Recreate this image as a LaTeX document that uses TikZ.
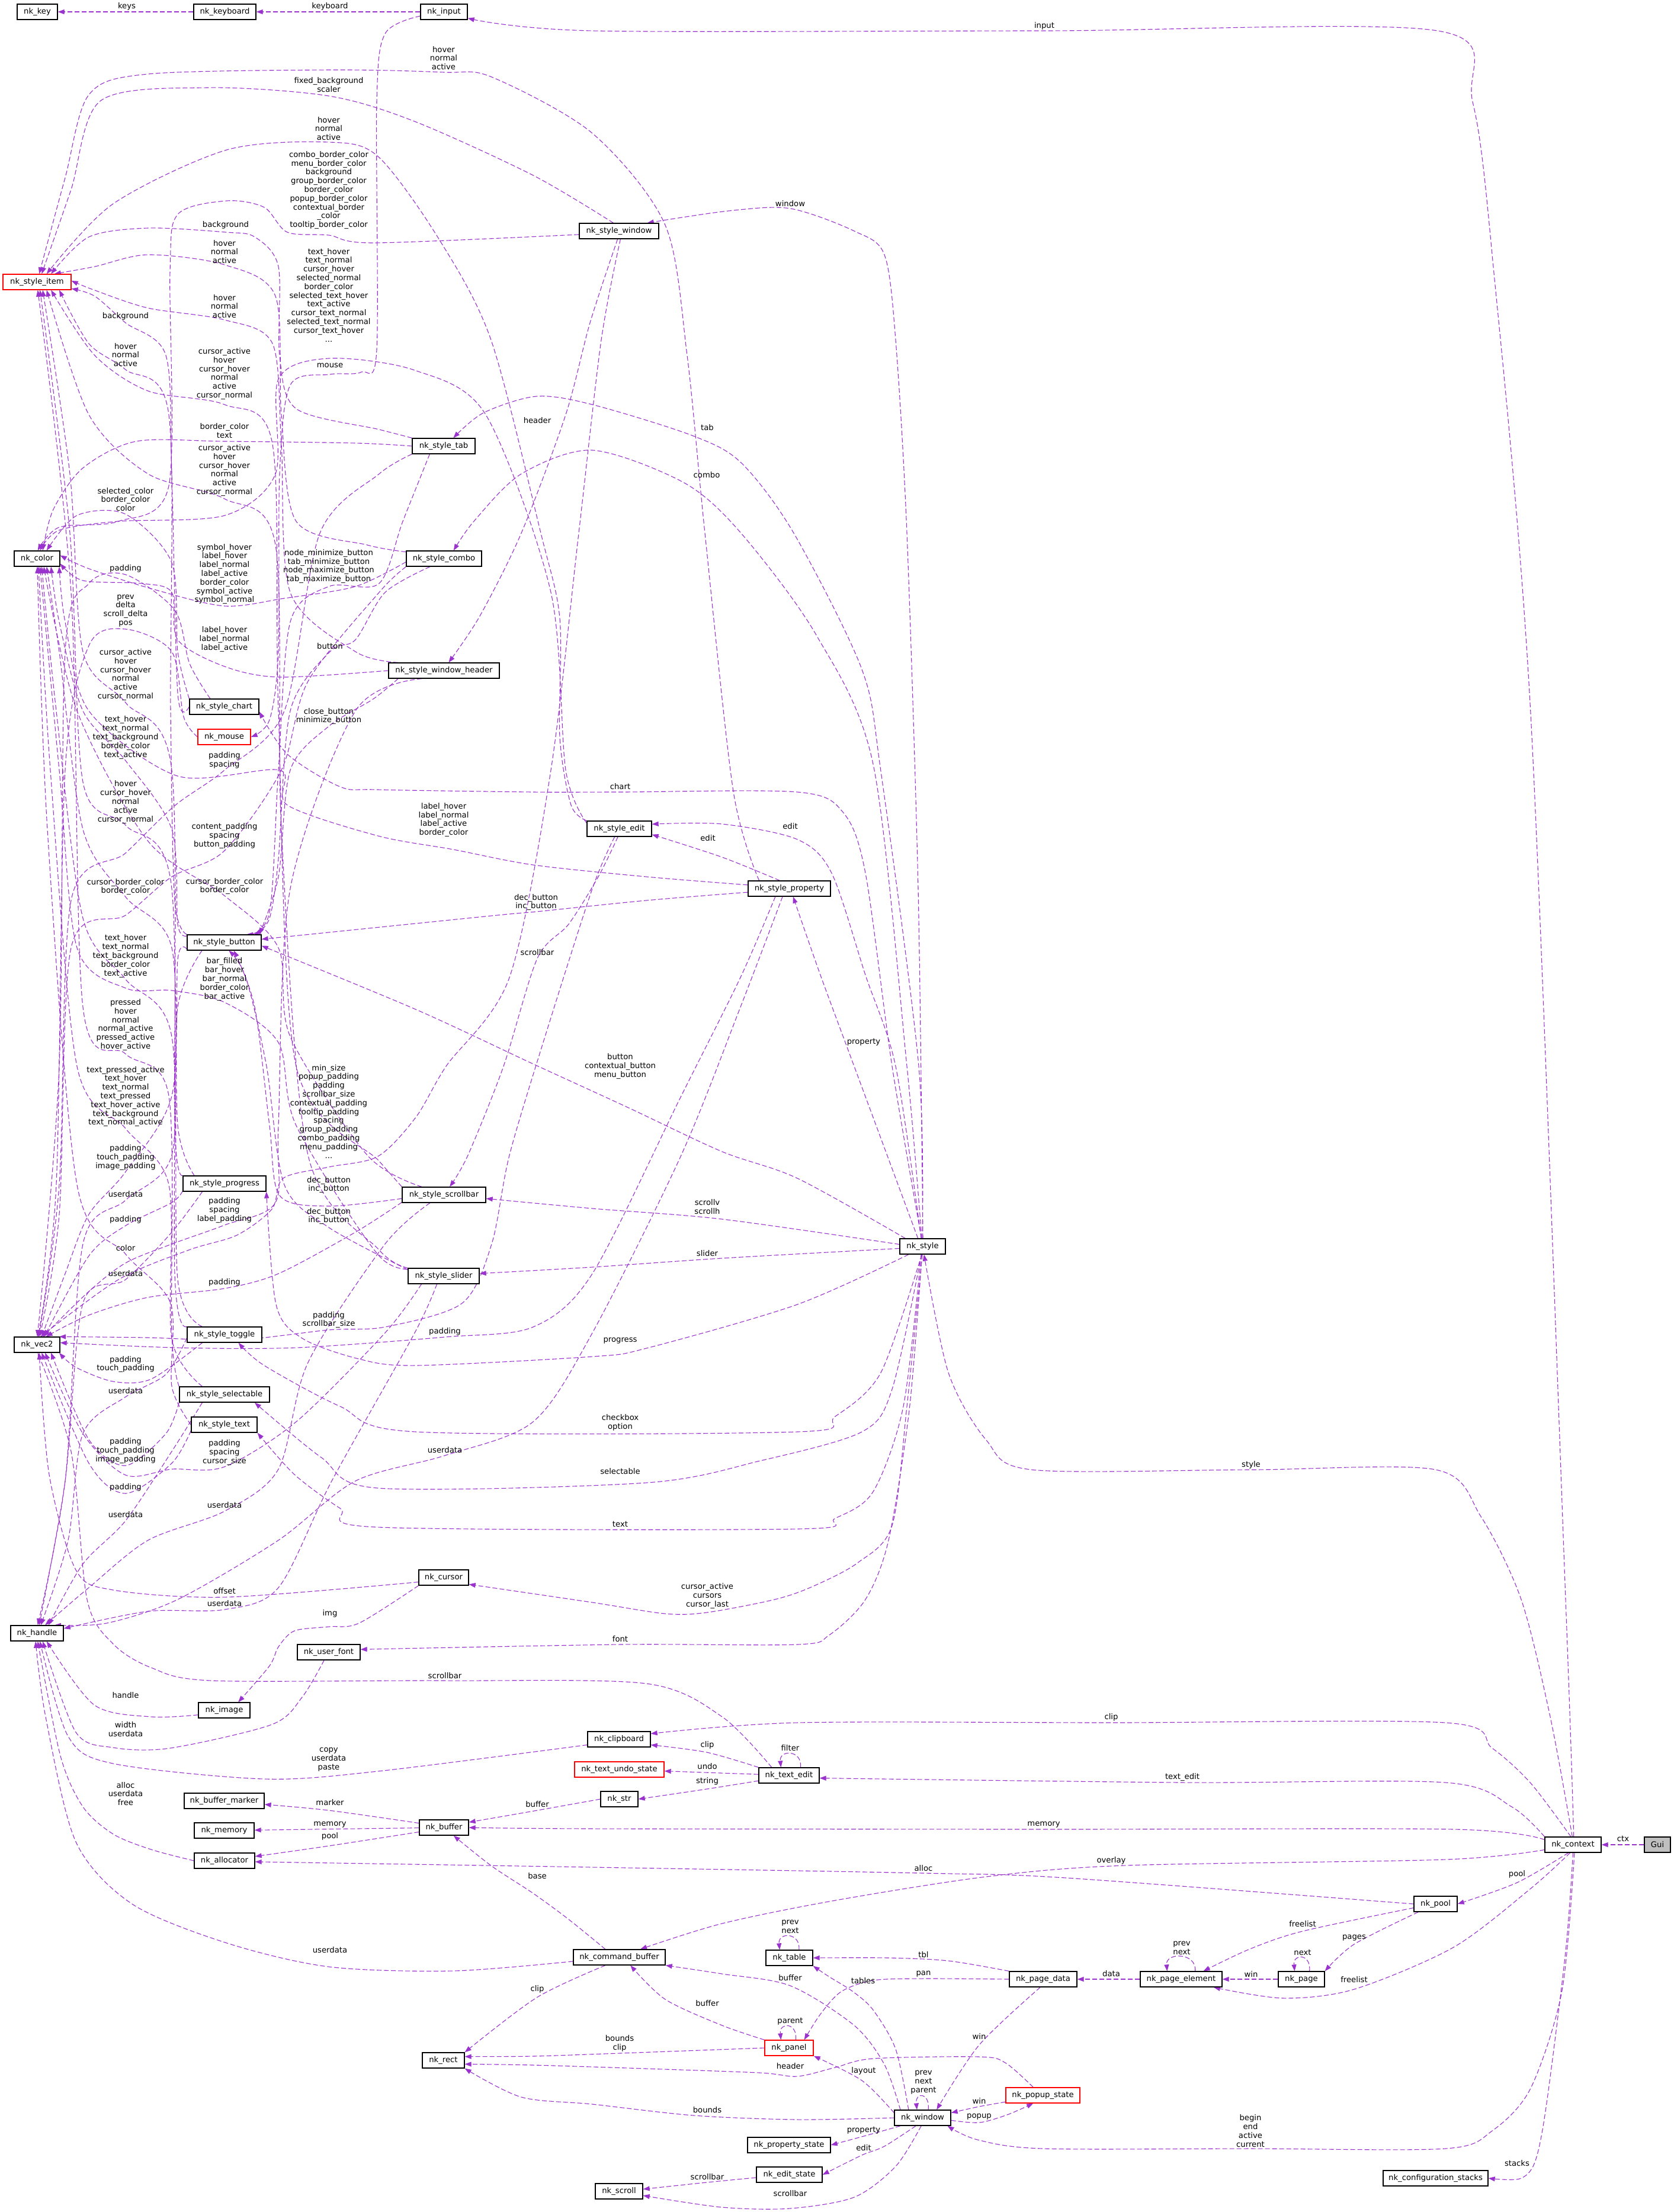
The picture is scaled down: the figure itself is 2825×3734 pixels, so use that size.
\documentclass[tikz,border=0pt]{standalone}
\usepackage{fontspec}
\setmainfont{DejaVu Sans}
\usetikzlibrary{arrows.meta}
\definecolor{ecol}{HTML}{9A32CD}
\newcommand{\nfont}{\fontsize{6.6pt}{7.4pt}\selectfont}
\pgfdeclarelayer{back}
\pgfdeclarelayer{bg}
\pgfsetlayers{back,bg,main}
\tikzset{
  nd/.style={draw=black,line width=0.65pt,fill=white,minimum height=13pt,inner sep=0pt,font=\nfont},
  wd/.style={minimum width=#1*0.5pt},
  trunc/.style={draw=red},
  edg/.style={draw=ecol,line width=0.55pt,dash pattern=on 4pt off 2pt,-{Triangle[length=5.5pt,width=4pt]}},
  lbl/.style={font=\nfont,align=center,inner sep=0pt,text=black},
}
\newcounter{lbc}
\newcommand{\lab}[2]{\stepcounter{lbc}\node[lbl] (lab\arabic{lbc}) at (#1) {#2};}
\newcommand{\edgeP}[1]{\draw[edg] plot[smooth,tension=0.5] coordinates {#1};}
\begin{document}
\begin{tikzpicture}[x=0.5pt,y=-0.5pt]
\begin{pgfonlayer}{back}
\fill[white] (0,0) rectangle (2825,3734);
\end{pgfonlayer}
\useasboundingbox (0,0) rectangle (2825,3734);
% ---------------- nodes
\node[nd,wd=68] (key) at (63,20) {nk\_key};
\node[nd,wd=105] (kbd) at (379.5,20) {nk\_keyboard};
\node[nd,wd=79] (inp) at (749.5,20) {nk\_input};
\node[nd,trunc,wd=115] (sitem) at (62.5,476) {nk\_style\_item};
\node[nd,wd=134] (swin) at (1045,390) {nk\_style\_window};
\node[nd,wd=106] (stab) at (749,753) {nk\_style\_tab};
\node[nd,wd=77] (col) at (62.5,943) {nk\_color};
\node[nd,wd=127] (scombo) at (749.5,943) {nk\_style\_combo};
\node[nd,wd=187] (shdr) at (749.5,1132) {nk\_style\_window\_header};
\node[nd,wd=117] (schart) at (378.5,1193) {nk\_style\_chart};
\node[nd,trunc,wd=89] (mouse) at (378.5,1244) {nk\_mouse};
\node[nd,wd=109] (sedit) at (1045.5,1399) {nk\_style\_edit};
\node[nd,wd=139] (sprop) at (1332.5,1500) {nk\_style\_property};
\node[nd,wd=125] (sbtn) at (378.5,1591) {nk\_style\_button};
\node[nd,wd=140] (sprog) at (379,1998) {nk\_style\_progress};
\node[nd,wd=141] (ssb) at (749.5,2017) {nk\_style\_scrollbar};
\node[nd,wd=120] (sslider) at (749,2154) {nk\_style\_slider};
\node[nd,wd=77] (sty) at (1557.5,2104) {nk\_style};
\node[nd,wd=77] (vec) at (62.5,2270) {nk\_vec2};
\node[nd,wd=126] (stog) at (379,2253) {nk\_style\_toggle};
\node[nd,wd=152] (ssel) at (379,2354) {nk\_style\_selectable};
\node[nd,wd=111] (stxt) at (378.5,2405) {nk\_style\_text};
\node[nd,wd=84] (cur) at (749,2663) {nk\_cursor};
\node[nd,wd=89] (hdl) at (62.5,2757) {nk\_handle};
\node[nd,wd=106] (ufont) at (555,2789) {nk\_user\_font};
\node[nd,wd=87] (img) at (378.5,2887) {nk\_image};
\node[nd,wd=106] (cbd) at (1045,2936) {nk\_clipboard};
\node[nd,trunc,wd=151] (undo) at (1045.5,2987) {nk\_text\_undo\_state};
\node[nd,wd=102] (tedit) at (1332,2997) {nk\_text\_edit};
\node[nd,wd=63] (str) at (1045.5,3037) {nk\_str};
\node[nd,wd=135] (marker) at (378.5,3040) {nk\_buffer\_marker};
\node[nd,wd=83] (buf) at (749.5,3085) {nk\_buffer};
\node[nd,wd=101] (mem) at (378.5,3090) {nk\_memory};
\node[nd,wd=102] (alloc) at (379,3141) {nk\_allocator};
\node[nd,wd=95] (ctx) at (2655.5,3114) {nk\_context};
\node[nd,wd=44,fill=gray!50] (gui) at (2798,3114) {Gui};
\node[nd,wd=73] (pool) at (2423.5,3214) {nk\_pool};
\node[nd,wd=155] (cmd) at (1045.5,3304) {nk\_command\_buffer};
\node[nd,wd=79] (tbl) at (1332.5,3305) {nk\_table};
\node[nd,wd=114] (pdata) at (1761,3341) {nk\_page\_data};
\node[nd,wd=138] (pel) at (1994,3341) {nk\_page\_element};
\node[nd,wd=78] (page) at (2197,3341) {nk\_page};
\node[nd,trunc,wd=82] (panel) at (1332,3457) {nk\_panel};
\node[nd,wd=71] (nrect) at (748.5,3478) {nk\_rect};
\node[nd,trunc,wd=125] (popup) at (1760.5,3537) {nk\_popup\_state};
\node[nd,wd=95] (win) at (1557.5,3575) {nk\_window};
\node[nd,wd=140] (pstate) at (1332,3621) {nk\_property\_state};
\node[nd,wd=111] (estate) at (1332.5,3671) {nk\_edit\_state};
\node[nd,wd=80] (scroll) at (1045,3699) {nk\_scroll};
\node[nd,wd=177] (stacks) at (2423.5,3677) {nk\_configuration\_stacks};
% ---------------- labels
\lab{214,11}{keys}
\lab{557,11}{keyboard}
\lab{1763,44}{input}
\lab{749,98}{hover\\normal\\active}
\lab{555,143}{fixed\_background\\scaler}
\lab{555,217}{hover\\normal\\active}
\lab{555,321}{combo\_border\_color\\menu\_border\_color\\background\\group\_border\_color\\border\_color\\popup\_border\_color\\contextual\_border\\\_color\\tooltip\_border\_color}
\lab{1334,344}{window}
\lab{381,380}{background}
\lab{379,425}{hover\\normal\\active}
\lab{555,498}{text\_hover\\text\_normal\\cursor\_hover\\selected\_normal\\border\_color\\selected\_text\_hover\\text\_active\\cursor\_text\_normal\\selected\_text\_normal\\cursor\_text\_hover\\...}
\lab{379,517}{hover\\normal\\active}
\lab{212,534}{background}
\lab{212,599}{hover\\normal\\active}
\lab{379,631}{cursor\_active\\hover\\cursor\_hover\\normal\\active\\cursor\_normal}
\lab{557,617}{mouse}
\lab{907,710}{header}
\lab{1194,722}{tab}
\lab{379,727}{border\_color\\text}
\lab{379,794}{cursor\_active\\hover\\cursor\_hover\\normal\\active\\cursor\_normal}
\lab{1193,802}{combo}
\lab{212,843}{selected\_color\\border\_color\\color}
\lab{555,956}{node\_minimize\_button\\tab\_minimize\_button\\node\_maximize\_button\\tab\_maximize\_button}
\lab{212,960}{padding}
\lab{379,969}{symbol\_hover\\label\_hover\\label\_normal\\label\_active\\border\_color\\symbol\_active\\symbol\_normal}
\lab{212,1031}{prev\\delta\\scroll\_delta\\pos}
\lab{379,1079}{label\_hover\\label\_normal\\label\_active}
\lab{557,1091}{button}
\lab{212,1139}{cursor\_active\\hover\\cursor\_hover\\normal\\active\\cursor\_normal}
\lab{555,1209}{close\_button\\minimize\_button}
\lab{212,1245}{text\_hover\\text\_normal\\text\_background\\border\_color\\text\_active}
\lab{379,1283}{padding\\spacing}
\lab{1047,1328}{chart}
\lab{212,1354}{hover\\cursor\_hover\\normal\\active\\cursor\_normal}
\lab{749,1384}{label\_hover\\label\_normal\\label\_active\\border\_color}
\lab{1334,1395}{edit}
\lab{379,1411}{content\_padding\\spacing\\button\_padding}
\lab{1195,1415}{edit}
\lab{212,1497}{cursor\_border\_color\\border\_color}
\lab{379,1496}{cursor\_border\_color\\border\_color}
\lab{905,1523}{dec\_button\\inc\_button}
\lab{907,1608}{scrollbar}
\lab{212,1614}{text\_hover\\text\_normal\\text\_background\\border\_color\\text\_active}
\lab{379,1653}{bar\_filled\\bar\_hover\\bar\_normal\\border\_color\\bar\_active}
\lab{212,1730}{pressed\\hover\\normal\\normal\_active\\pressed\_active\\hover\_active}
\lab{1458,1759}{property}
\lab{1047,1800}{button\\contextual\_button\\menu\_button}
\lab{212,1851}{text\_pressed\_active\\text\_hover\\text\_normal\\text\_pressed\\text\_hover\_active\\text\_background\\text\_normal\_active}
\lab{555,1876}{min\_size\\popup\_padding\\padding\\scrollbar\_size\\contextual\_padding\\tooltip\_padding\\spacing\\group\_padding\\combo\_padding\\menu\_padding\\...}
\lab{212,1954}{padding\\touch\_padding\\image\_padding}
\lab{555,2000}{dec\_button\\inc\_button}
\lab{212,2016}{userdata}
\lab{1194,2037}{scrollv\\scrollh}
\lab{379,2043}{padding\\spacing\\label\_padding}
\lab{555,2053}{dec\_button\\inc\_button}
\lab{212,2059}{padding}
\lab{212,2107}{color}
\lab{1194,2116}{slider}
\lab{212,2150}{userdata}
\lab{379,2165}{padding}
\lab{555,2228}{padding\\scrollbar\_size}
\lab{751,2248}{padding}
\lab{1047,2263}{progress}
\lab{212,2303}{padding\\touch\_padding}
\lab{212,2348}{userdata}
\lab{1047,2401}{checkbox\\option}
\lab{212,2449}{padding\\touch\_padding\\image\_padding}
\lab{379,2452}{padding\\spacing\\cursor\_size}
\lab{751,2448}{userdata}
\lab{1047,2484}{selectable}
\lab{212,2511}{padding}
\lab{379,2541}{userdata}
\lab{212,2557}{userdata}
\lab{1047,2573}{text}
\lab{379,2686}{offset}
\lab{1194,2694}{cursor\_active\\cursors\\cursor\_last}
\lab{379,2707}{userdata}
\lab{557,2724}{img}
\lab{1047,2767}{font}
\lab{751,2829}{scrollbar}
\lab{212,2862}{handle}
\lab{1876,2899}{clip}
\lab{212,2919}{width\\userdata}
\lab{1194,2946}{clip}
\lab{1334,2951}{filter}
\lab{555,2970}{copy\\userdata\\paste}
\lab{1194,2982}{undo}
\lab{1996,3000}{text\_edit}
\lab{1194,3007}{string}
\lab{212,3028}{alloc\\userdata\\free}
\lab{557,3043}{marker}
\lab{907,3046}{buffer}
\lab{557,3080}{memory}
\lab{1762,3080}{memory}
\lab{557,3100}{pool}
\lab{2740,3104}{ctx}
\lab{1876,3141}{overlay}
\lab{1559,3154}{alloc}
\lab{2561,3164}{pool}
\lab{907,3167}{base}
\lab{2199,3248}{freelist}
\lab{1334,3252}{prev\\next}
\lab{2286,3271}{pages}
\lab{1995,3288}{prev\\next}
\lab{557,3292}{userdata}
\lab{2199,3296}{next}
\lab{1559,3300}{tbl}
\lab{1559,3332}{pan}
\lab{1876,3332}{data}
\lab{2112,3332}{win}
\lab{1334,3339}{buffer}
\lab{2286,3342}{freelist}
\lab{1457,3344}{tables}
\lab{907,3358}{clip}
\lab{1194,3382}{buffer}
\lab{1334,3412}{parent}
\lab{1653,3437}{win}
\lab{1046,3449}{bounds\\clip}
\lab{1334,3488}{header}
\lab{1458,3496}{layout}
\lab{1559,3515}{prev\\next\\parent}
\lab{1653,3546}{win}
\lab{1194,3562}{bounds}
\lab{1653,3573}{popup}
\lab{2111,3597}{begin\\end\\active\\current}
\lab{1458,3596}{property}
\lab{1458,3626}{edit}
\lab{2561,3652}{stacks}
\lab{1194,3675}{scrollbar}
\lab{1334,3703}{scrollbar}
\lab{2112,2473}{style}
% ---------------- edges
\begin{pgfonlayer}{bg}
\draw[edg] (kbd) -- (key);
\draw[edg] (inp) -- (kbd);
\draw[edg] (gui) -- (ctx);
\edgeP{(ctx.85) (2643,2700) (2584,1205) (2519,430) (2486,172) (2427,52) (1763,52) (1000,52) (inp.-15)}
\edgeP{(ctx.95) (2617,2898) (2568,2700) (2500,2560) (2424,2481) (2112,2481) (1742,2481) (1665,2431) (1601,2317) (sty.-80)}
\edgeP{(ctx.-120) (2561,3178) (pool.east)}
\edgeP{(ctx.-110) (2584,3188) (2454,3287) (2286,3358) (2166,3373) (pel.-14)}
\edgeP{(ctx.-90) (2643,3294) (2610,3557) (2591,3650) (2565,3678) (stacks.east)}
\edgeP{(ctx.-80) (2637,3360) (2584,3525) (2519,3597) (2440,3627) (2111,3627) (1761,3627) (1650,3612) (win.-18)}
\edgeP{(ctx.-170) (2440,3139) (1900,3149) (1665,3168) (1410,3208) (1219,3247) (cmd.21)}
\edgeP{(ctx.170) (2454,3088) (1762,3088) (1000,3087) (buf.east)}
\edgeP{(ctx.north west) (2552,3050) (2440,3009) (1996,3009) (tedit.-5)}
\edgeP{(ctx.105) (2584,3010) (2519,2951) (2440,2908) (1876,2908) (1346,2908) (cbd.10)}
% pool / pages
\edgeP{(pool.west) (1800,3170) (1559,3162) (1000,3152) (alloc.-2)}
\edgeP{(pool.-170) (2199,3260) (2110,3290) (pel.20)}
\edgeP{(pool.-155) (2286,3282) (page.north east)}
\draw[edg] (page.45) .. controls +(3,-30) and +(-3,-30) .. (page.130);
\draw[edg] (page) -- (pel);
\draw[edg] (pel.30) .. controls +(3,-32) and +(-3,-32) .. (pel.150);
\draw[edg] (pel) -- (pdata);
\edgeP{(pdata.north west) (1601,3310) (1500,3305) (tbl.east)}
\edgeP{(pdata.west) (1559,3340) (1474,3343) (1420,3362) (1385,3400) (panel.28)}
\edgeP{(pdata.-110) (1653,3452) (win.30)}
\draw[edg] (tbl.40) .. controls +(3,-30) and +(-3,-30) .. (tbl.140);
% window
\edgeP{(win.150) (1512,3459) (1474,3393) (1440,3362) (1400,3337) (tbl.south east)}
\edgeP{(win.160) (1493,3485) (1442,3419) (1334,3352) (1219,3332) (cmd.south east)}
\edgeP{(panel.north west) (1219,3419) (1123,3375) (cmd.-36)}
\draw[edg] (panel.50) .. controls +(3,-30) and +(-3,-30) .. (panel.135);
\edgeP{(win.170) (1455,3512) (panel.south east)}
\draw[edg] (win.55) .. controls +(3,-30) and +(-3,-30) .. (win.125);
\edgeP{(win.-5) (1653,3583) (1700,3570) (popup.-140)}
\edgeP{(popup.-170) (1653,3556) (win.10)}
\edgeP{(popup.140) (1697,3482) (1653,3472) (1474,3475) (1410,3490) (1346,3505) (1283,3499) (1091,3492) (900,3486) (nrect.-10)}
\edgeP{(panel.west) (1046,3466) (900,3471) (nrect.10)}
\edgeP{(cmd.-150) (906,3372) (nrect.north east)}
\edgeP{(win.west) (1346,3578) (1171,3571) (1000,3552) (880,3540) (nrect.south east)}
\edgeP{(win.-160) (1458,3606) (pstate.east)}
\edgeP{(win.-130) (1493,3623) (1455,3638) (estate.east)}
\edgeP{(win.-100) (1512,3657) (1442,3709) (1334,3728) (1219,3726) (scroll.-10)}
\edgeP{(estate.-175) (1193,3684) (scroll.5)}
% text edit
\edgeP{(tedit.north west) (1193,2958) (cbd.-10)}
\draw[edg] (tedit) -- (undo);
\edgeP{(tedit.-170) (1193,3020) (str.east)}
\draw[edg] (tedit.35) .. controls +(3,-30) and +(-3,-30) .. (tedit.135);
\edgeP{(tedit.155) (1219,2898) (1091,2842) (751,2837) (357,2837) (255,2815) (191,2775) (147,2700) (120,2450) (vec.-85)}
% buffer
\edgeP{(str.west) (907,3056) (buf.12)}
\edgeP{(cmd.150) (960,3240) (900,3196) (830,3150) (buf.-40)}
\edgeP{(buf.170) (555,3056) (marker.-5)}
\draw[edg] (buf) -- (mem);
\edgeP{(buf.-170) (555,3116) (alloc.8)}
\edgeP{(alloc.west) (255,3122) (191,3096) (140,3050) (102,2964) (hdl.-85)}
\edgeP{(cmd.-175) (765,3327) (555,3320) (383,3280) (223,3214) (128,3109) (77,2898) (hdl.-100)}
\edgeP{(cbd.-170) (638,2990) (446,3003) (191,2977) (115,2931) (hdl.-70)}
\edgeP{(img.-170) (255,2898) (159,2878) (hdl.-40)}
\edgeP{(ufont.-120) (510,2865) (459,2911) (287,2951) (191,2950) (128,2924) (hdl.-55)}
\edgeP{(cur.south west) (606,2740) (555,2746) (497,2753) (470,2780) (455,2812) (img.30)}
\edgeP{(cur.-170) (383,2696) (191,2684) (128,2650) (83,2489) (vec.-75)}
% nk_style outgoing
\edgeP{(sty.-92) (1531,2374) (1506,2575) (1448,2638) (1372,2678) (1308,2700) (1193,2722) (1123,2724) (1000,2705) (cur.-15)}
\edgeP{(sty.-94) (1535,2380) (1500,2600) (1461,2700) (1400,2760) (1346,2776) (1047,2776) (ufont.5)}
\edgeP{(sty.88) (1550,1500) (1531,900) (1512,574) (1493,430) (1442,390) (1334,352) (1230,356) (swin.16)}
\edgeP{(sty.92) (1551,1800) (1487,1302) (1455,1130) (1340,900) (1251,781) (1168,735) (1000,683) (906,669) (816,697) (stab.40)}
\edgeP{(sty.96) (1531,1800) (1474,1290) (1378,1072) (1251,900) (1155,815) (1000,760) (880,800) (800,880) (scombo.40)}
\edgeP{(sty.98) (1506,1800) (1461,1474) (1423,1371) (1346,1337) (1047,1337) (900,1337) (638,1333) (574,1328) (485,1273) (schart.-8)}
\edgeP{(sty.100) (1512,1800) (1461,1646) (1404,1474) (1346,1417) (1219,1391) (sedit.8)}
\edgeP{(sty.120) (1442,1800) (1385,1646) (sprop.-65)}
\edgeP{(sty.155) (1346,1989) (1219,1944) (1059,1869) (900,1796) (702,1704) (sbtn.-5)}
\edgeP{(sty.175) (1219,2058) (1000,2040) (ssb.-5)}
\edgeP{(sty.-175) (1219,2124) (1000,2139) (sslider.4)}
\edgeP{(sty.-150) (1346,2202) (1091,2276) (1000,2290) (702,2305) (606,2294) (510,2259) (466,2202) (sprog.south east)}
\edgeP{(sty.-96) (1487,2317) (1410,2391) (1346,2417) (702,2417) (574,2374) (446,2305) (stog.-30)}
\edgeP{(sty.-98) (1506,2345) (1455,2417) (1283,2466) (1091,2503) (638,2512) (542,2460) (ssel.-15)}
\edgeP{(sty.-100) (1525,2374) (1474,2518) (1410,2563) (1346,2581) (638,2578) (574,2546) (497,2489) (stxt.south east)}
% nk_style_window
\edgeP{(swin.125) (900,296) (700,205) (555,162) (350,148) (170,170) (120,320) (sitem.60)}
\edgeP{(swin.-175) (631,410) (555,397) (485,392) (446,350) (383,339) (300,362) (287,459) (285,820) (200,880) (100,890) (col.85)}
\edgeP{(swin.-100) (996,545) (955,700) (880,900) (810,1040) (shdr.60)}
\edgeP{(swin.-80) (1015,574) (977,900) (930,1300) (860,1650) (753,1800) (702,1886) (638,1952) (555,1970) (478,1989) (459,2041) (400,2085) (319,2110) (200,2160) (vec.66)}
% nk_style_edit
\edgeP{(sedit.north west) (964,1359) (945,1244) (945,1044) (913,900) (829,574) (740,402) (638,264) (555,240) (383,253) (191,344) (sitem.40)}
\edgeP{(sedit.170) (955,1300) (930,1000) (820,700) (700,625) (555,605) (470,640) (465,800) (380,870) (200,880) (100,895) (col.70)}
\edgeP{(sedit.-100) (1010,1480) (960,1560) (907,1618) (850,1800) (790,1950) (ssb.55)}
\edgeP{(sedit.-120) (1000,1500) (920,1750) (860,1950) (830,2100) (780,2200) (650,2240) (555,2245) (400,2262) (250,2258) (vec.20)}
% nk_style_property
\edgeP{(sprop.165) (1238,1336) (1190,900) (1160,600) (1123,380) (1000,225) (830,130) (749,122) (560,118) (250,125) (150,160) (110,300) (sitem.75)}
\edgeP{(sprop.140) (1219,1447) (sedit.-10)}
\edgeP{(sprop.175) (1091,1480) (900,1460) (765,1434) (638,1411) (485,1359) (472,1300) (300,1310) (150,1200) (110,1050) (col.-20)}
\edgeP{(sprop.-175) (1091,1520) (905,1539) (829,1546) (sbtn.5)}
\edgeP{(sprop.-150) (1250,1650) (1150,1850) (1000,2150) (900,2240) (751,2257) (500,2275) (300,2275) (vec.5)}
\edgeP{(sprop.-130) (1250,1700) (1150,1950) (1000,2250) (900,2400) (751,2457) (600,2500) (470,2600) (300,2700) (180,2740) (hdl.25)}
% nk_style_tab
\edgeP{(stab.north west) (640,725) (500,690) (472,600) (470,450) (430,400) (381,392) (250,385) (150,400) (sitem.30)}
\edgeP{(stab.west) (600,748) (379,745) (230,745) (140,790) (90,860) (col.55)}
\edgeP{(stab.south west) (640,800) (540,900) (480,1200) (379,1300) (295,1360) (212,1440) (120,1520) (100,2000) (vec.78)}
\edgeP{(stab.-150) (680,880) (640,985) (555,990) (490,1050) (470,1300) (455,1540) (sbtn.20)}
% nk_style_combo
\edgeP{(scombo.170) (620,920) (500,880) (475,700) (465,500) (379,447) (250,430) (160,450) (sitem.25)}
\edgeP{(scombo.-175) (600,990) (480,1010) (379,1023) (260,995) (150,960) (col.8)}
\edgeP{(scombo.south west) (640,1000) (520,1150) (475,1300) (379,1436) (290,1480) (212,1545) (120,1600) (100,2050) (vec.72)}
\edgeP{(scombo.-150) (650,1000) (600,1080) (557,1100) (490,1200) (470,1450) (455,1550) (sbtn.15)}
% nk_style_window_header
\edgeP{(shdr.170) (600,1100) (490,1000) (475,750) (460,580) (379,540) (250,520) (160,490) (sitem.2)}
\edgeP{(shdr.west) (472,1143) (379,1125) (300,1080) (290,1000) (240,985) (140,980) (col.-12)}
\edgeP{(shdr.-160) (600,1200) (490,1500) (470,1900) (465,2030) (379,2068) (290,2100) (212,2132) (150,2180) (vec.54)}
\edgeP{(shdr.-170) (630,1180) (555,1226) (490,1300) (470,1480) (sbtn.13)}
% nk_style_chart / mouse / input
\edgeP{(schart.west) (300,1170) (290,800) (280,600) (212,545) (160,500) (sitem.-11)}
\edgeP{(schart.north west) (300,1100) (290,950) (212,868) (130,870) (col.40)}
\edgeP{(schart.150) (320,1120) (295,1030) (212,970) (150,985) (110,1100) (100,1800) (vec.88)}
\edgeP{(mouse.west) (310,1210) (290,1100) (212,1062) (150,1090) (110,1300) (95,2000) (vec.84)}
\edgeP{(inp.-170) (650,57) (636,172) (636,590) (610,628) (557,632) (490,650) (472,800) (470,1100) (455,1215) (mouse.east)}
% nk_style_button
\edgeP{(sbtn.north west) (295,1520) (288,1200) (285,700) (212,624) (150,580) (sitem.-20)}
\edgeP{(sbtn.170) (300,1560) (290,1400) (212,1284) (140,1200) (100,1050) (col.-30)}
\edgeP{(sbtn.-170) (300,1620) (290,1850) (212,1978) (150,2050) (110,2150) (vec.60)}
\edgeP{(sbtn.-160) (300,1700) (290,1950) (212,2026) (140,2100) (110,2500) (hdl.85)}
% nk_style_progress
\edgeP{(sprog.north west) (295,1900) (290,1300) (212,1186) (140,1100) (118,800) (sitem.-55)}
\edgeP{(sprog.165) (300,1900) (290,1600) (212,1514) (140,1400) (100,1100) (col.-40)}
\edgeP{(sprog.-170) (290,2030) (212,2069) (150,2120) (vec.48)}
\edgeP{(sprog.-160) (290,2080) (212,2160) (140,2200) (110,2500) (hdl.75)}
% nk_style_scrollbar
\edgeP{(ssb.north west) (640,1960) (500,1800) (470,1200) (460,750) (379,683) (250,660) (160,600) (sitem.-30)}
\edgeP{(ssb.160) (620,1950) (490,1750) (470,1600) (379,1512) (250,1420) (130,1200) (col.-50)}
\edgeP{(ssb.-175) (555,2036) (472,2018) (455,1900) (430,1700) (sbtn.-40)}
\edgeP{(ssb.-170) (600,2080) (470,2150) (379,2175) (250,2190) (150,2220) (vec.42)}
\edgeP{(ssb.-150) (650,2100) (520,2300) (470,2480) (379,2551) (250,2600) (150,2680) (hdl.45)}
% nk_style_slider
\edgeP{(sslider.north west) (640,2110) (520,1950) (475,1400) (465,920) (379,842) (250,800) (150,700) (sitem.-40)}
\edgeP{(sslider.160) (640,2120) (500,1900) (470,1760) (379,1692) (290,1672) (212,1668) (130,1600) (100,1300) (col.-70)}
\edgeP{(sslider.170) (555,2072) (480,2000) (450,1800) (415,1650) (sbtn.-60)}
\edgeP{(sslider.-160) (650,2250) (500,2400) (379,2476) (290,2480) (212,2490) (140,2420) (vec.-45)}
\edgeP{(sslider.-130) (700,2250) (560,2500) (470,2680) (379,2717) (250,2720) (hdl.10)}
% nk_style_toggle
\edgeP{(stog.north west) (295,2150) (290,1500) (212,1393) (140,1320) (118,900) (sitem.-70)}
\edgeP{(stog.160) (300,2160) (290,1750) (212,1653) (140,1550) (95,1200) (col.-60)}
\edgeP{(stog.-160) (255,2328) (191,2332) (128,2308) (vec.-20)}
\edgeP{(stog.-175) (280,2320) (212,2358) (140,2420) (115,2600) (hdl.65)}
% nk_style_selectable
\edgeP{(ssel.north west) (290,2250) (285,1850) (212,1779) (140,1700) (120,1000) (sitem.-85)}
\edgeP{(ssel.160) (290,2260) (285,2000) (212,1905) (130,1800) (85,1300) (col.-80)}
\edgeP{(ssel.-170) (280,2420) (212,2474) (150,2430) (vec.-30)}
\edgeP{(ssel.-160) (290,2450) (212,2567) (140,2640) (hdl.35)}
% nk_style_text
\edgeP{(stxt.west) (290,2340) (288,2200) (212,2117) (130,2000) (80,1400) (col.-88)}
\edgeP{(stxt.-170) (290,2470) (212,2521) (150,2470) (vec.-60)}
\end{pgfonlayer}
\end{tikzpicture}
\end{document}
